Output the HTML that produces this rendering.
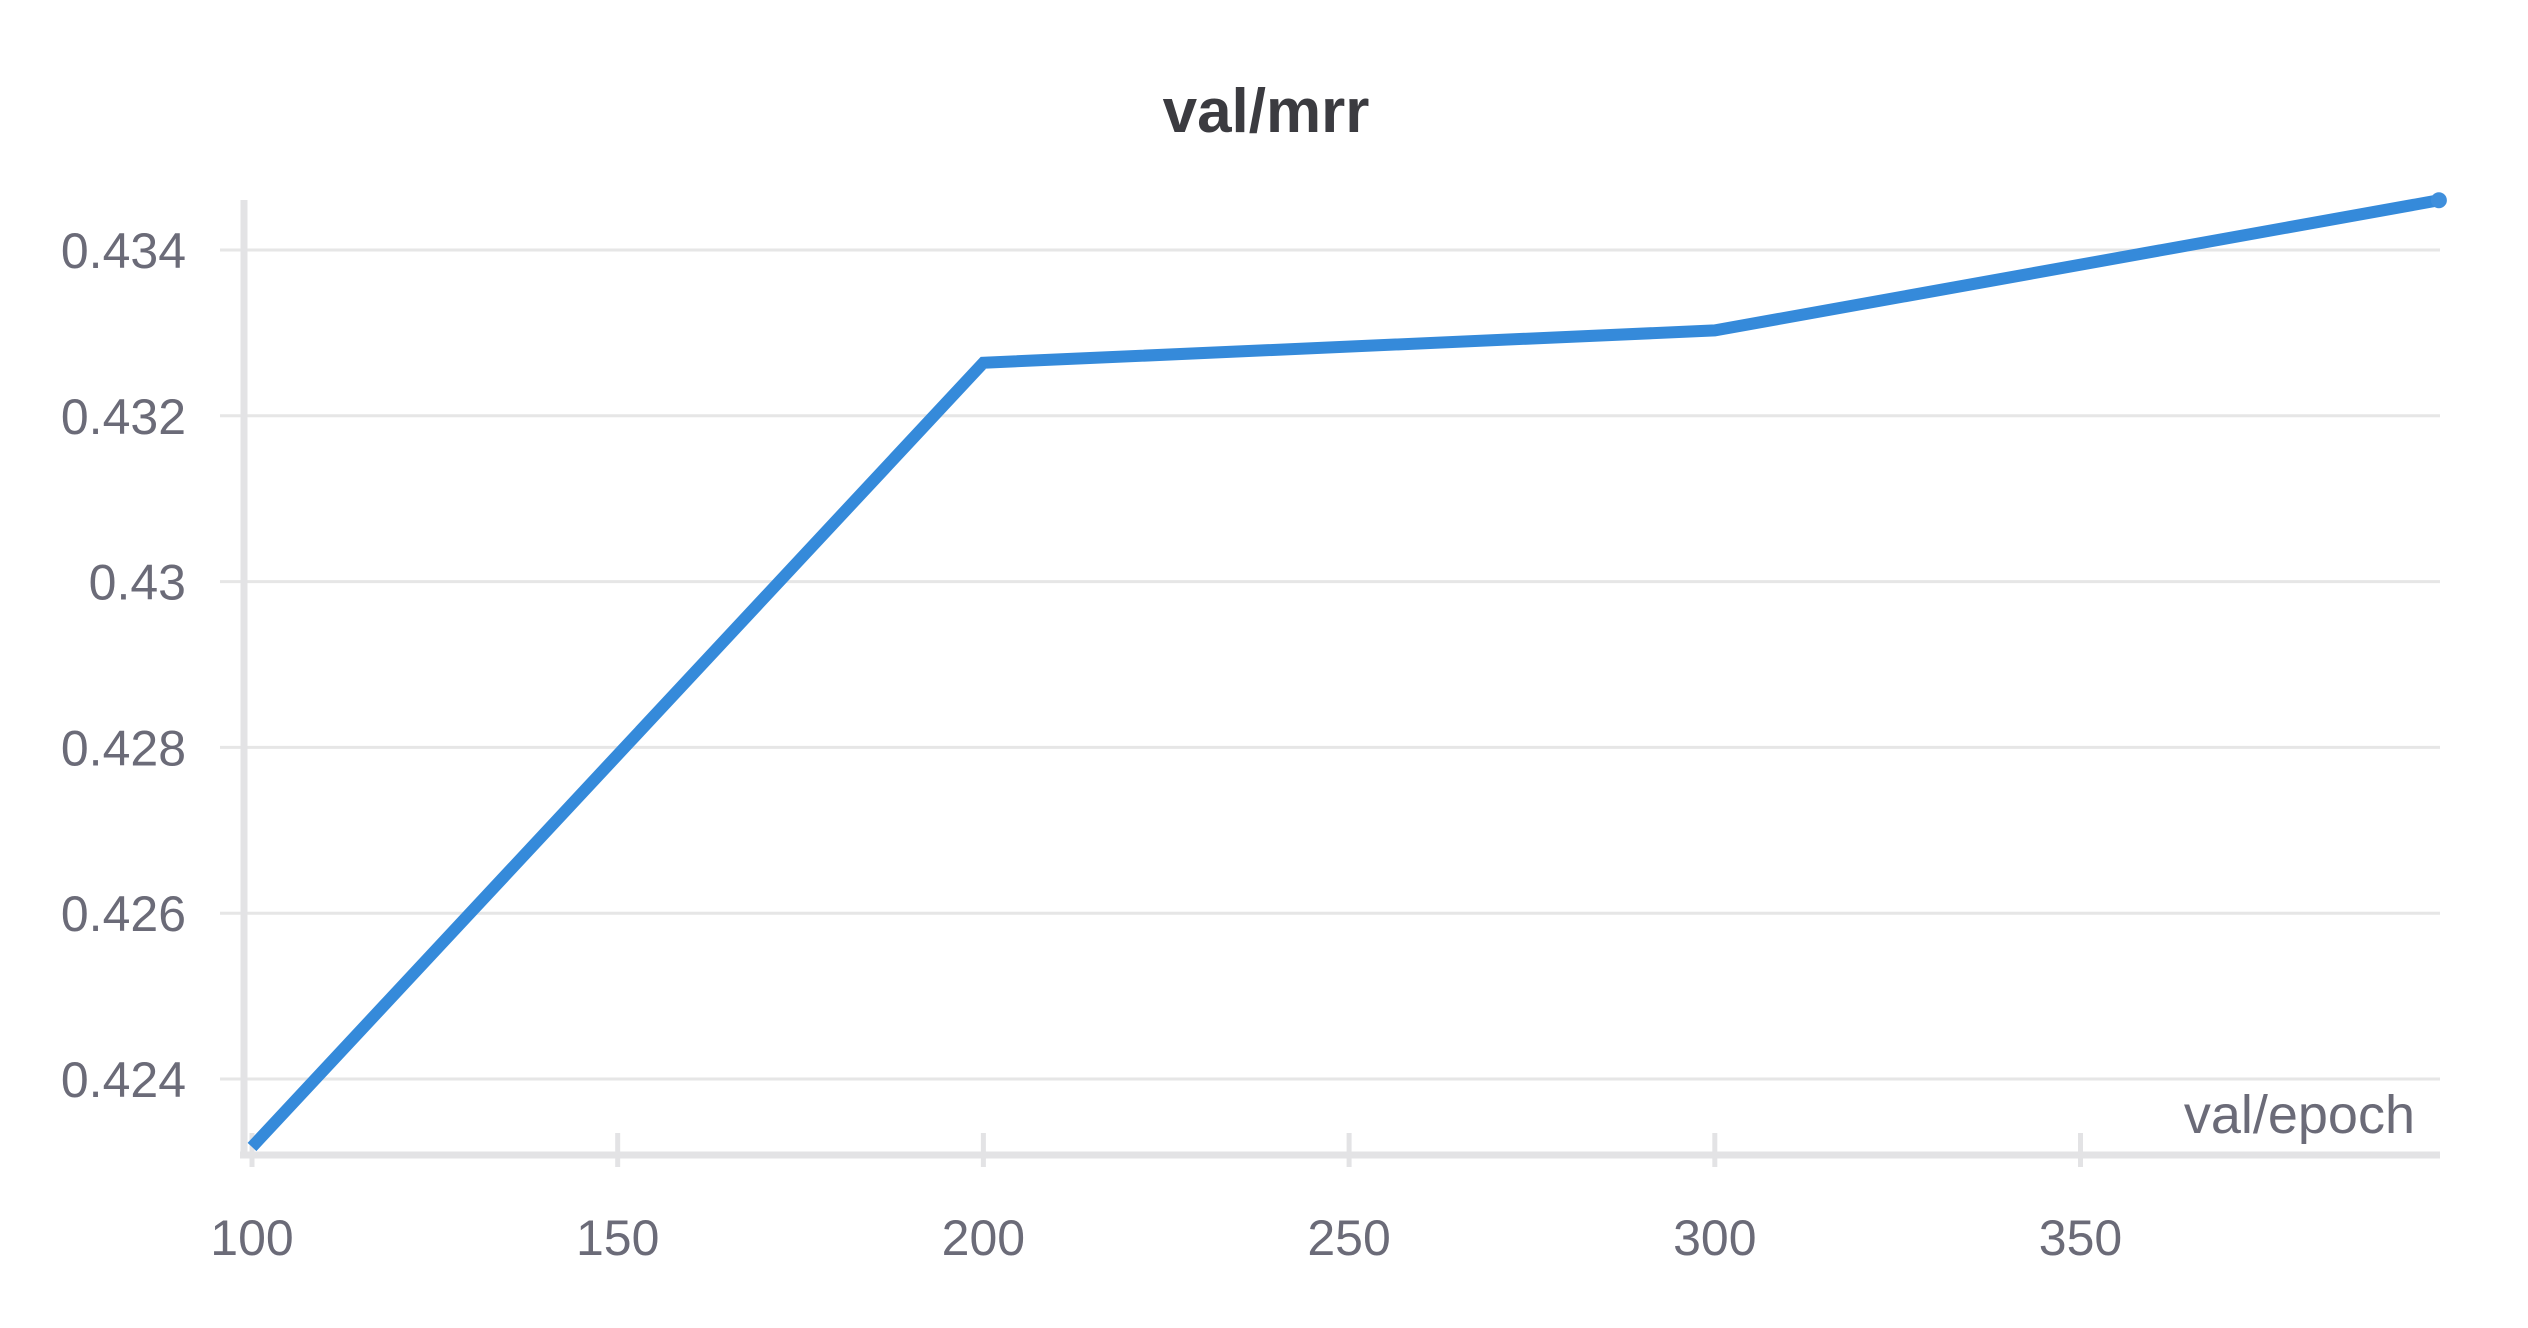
<!DOCTYPE html>
<html><head><meta charset="utf-8"><style>
html,body{margin:0;padding:0;background:#fff;}
svg{display:block;font-family:"Liberation Sans",sans-serif;}
</style></head><body>
<svg id="chart" width="2528" height="1328" viewBox="0 0 2528 1328">
<text x="1266" y="132" text-anchor="middle" font-size="62" font-weight="bold" fill="#3b3b40">val/mrr</text>
<g id="grid"></g>
<g id="axes"></g>
<g id="series"></g>
<text x="2415" y="1133" text-anchor="end" font-size="54" fill="#6b6b78">val/epoch</text>
</svg>
<script>
const epochs = [100, 200, 300, 399];
const mrrValues = [0.42318, 0.43264, 0.43303, 0.4346];
const yTicks = [0.424, 0.426, 0.428, 0.43, 0.432, 0.434];
const yTickLabels = ["0.424", "0.426", "0.428", "0.43", "0.432", "0.434"];
const xTicks = [100, 150, 200, 250, 300, 350];
const xTickLabels = ["100", "150", "200", "250", "300", "350"];

const NS = "http://www.w3.org/2000/svg";
const xS = v => 252 + (v - 100) * (365.7 / 50);
const yS = v => 250 + (0.434 - v) * (165.8 / 0.002);
function mk(tag, attrs, parent) {
  const e = document.createElementNS(NS, tag);
  for (const k in attrs) e.setAttribute(k, attrs[k]);
  parent.appendChild(e);
  return e;
}
const grid = document.getElementById('grid');
const axes = document.getElementById('axes');
const series = document.getElementById('series');

yTicks.forEach((t, i) => {
  const y = yS(t);
  const g = mk('line', {x1: 220, x2: 2440, y1: y, y2: y, stroke: '#e6e6e6', 'stroke-width': 3}, grid);
  
  
  const l = mk('text', {x: 186, y: y + 18, 'text-anchor': 'end', 'font-size': 50, fill: '#6b6b78'}, axes);
  l.textContent = yTickLabels[i];
  
  
});
const ya = mk('line', {x1: 244, x2: 244, y1: 200, y2: 1158, stroke: '#e3e3e5', 'stroke-width': 7}, axes);


const xa = mk('line', {x1: 240, x2: 2440, y1: 1155, y2: 1155, stroke: '#e3e3e5', 'stroke-width': 7}, axes);


xTicks.forEach((t, i) => {
  const x = xS(t);
  const tk = mk('line', {x1: x, x2: x, y1: 1133, y2: 1167, stroke: '#e3e3e5', 'stroke-width': 5}, axes);
  
  
  const l = mk('text', {x: x, y: 1255, 'text-anchor': 'middle', 'font-size': 50, fill: '#6b6b78'}, axes);
  l.textContent = xTickLabels[i];
  
  
});
const pts = epochs.map((e, i) => xS(e) + ',' + yS(mrrValues[i])).join(' ');
const line = mk('polyline', {points: pts, fill: 'none', stroke: '#358ada', 'stroke-width': 12, 'stroke-linejoin': 'miter'}, series);


const last = epochs.length - 1;
const dot = mk('circle', {cx: xS(epochs[last]), cy: yS(mrrValues[last]), r: 8, fill: '#3f8fdc'}, series);


</script>
</body></html>
